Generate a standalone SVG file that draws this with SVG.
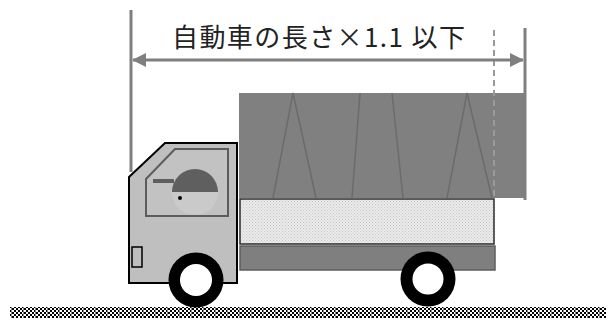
<svg xmlns="http://www.w3.org/2000/svg" width="614" height="320" viewBox="0 0 614 320">
  <defs>
    <style>
      .dim { stroke: #7f7f7f; stroke-width: 3; fill: none; }
      .cover-line { stroke: #6b6b6b; stroke-width: 1.5; fill: none; }
      .label { font-family: "Noto Sans CJK JP", "Liberation Serif", serif; font-size: 26px; fill: #222; }
      .tyre { fill: #000; }
      .hub { fill: #fff; }
    </style>
    <marker id="arrow" viewBox="0 0 14 14" refX="13" refY="7" markerWidth="14" markerHeight="14" markerUnits="userSpaceOnUse" orient="auto-start-reverse">
      <path d="M0,0 L14,7 L0,14 Z" fill="#7f7f7f"/>
    </marker>
    <pattern id="dots" width="3" height="3" patternUnits="userSpaceOnUse">
      <rect width="3" height="3" fill="#ececec"/>
      <rect x="0" y="0" width="1" height="1" fill="#c4c4c4"/>
      <rect x="1.5" y="1.5" width="1" height="1" fill="#c4c4c4"/>
    </pattern>
    <pattern id="checks" width="12" height="12" patternUnits="userSpaceOnUse">
      <rect width="12" height="12" fill="#fff"/>
      <path d="M0,0h2v2h-2zM4,0h2v2h-2zM8,0h2v2h-2zM2,2h2v2h-2zM6,2h2v2h-2zM10,2h2v2h-2zM0,4h2v2h-2zM4,4h2v2h-2zM8,4h2v2h-2zM2,6h2v2h-2zM6,6h2v2h-2zM10,6h2v2h-2zM0,8h2v2h-2zM4,8h2v2h-2zM8,8h2v2h-2zM2,10h2v2h-2zM6,10h2v2h-2zM10,10h2v2h-2z" fill="#000"/>
      <rect x="11" y="0" width="1" height="12" fill="#888"/>
    </pattern>
  </defs>

  <!-- ground strip -->
  <rect id="ground" x="10" y="307" width="596" height="11" fill="url(#checks)"/>

  <!-- cargo cover with tie-down ropes -->
  <g id="cover">
    <rect x="239" y="93" width="285" height="105" fill="#808080"/>
    <path class="cover-line" d="M293,93 L273,198 M293,93 L316,198 M360,93 L352,198 M392,93 L403,198 M467,93 L447,198 M467,93 L492,198"/>
  </g>

  <!-- cargo bed -->
  <g id="bed">
    <rect x="240" y="246" width="255" height="24" fill="#7f7f7f" stroke="#5e5e5e" stroke-width="1.5"/>
    <rect x="240" y="199" width="254" height="45" fill="url(#dots)" stroke="#2a2a2a" stroke-width="1.5"/>
  </g>

  <!-- cab -->
  <g id="cab">
    <path d="M129,177 L165,143 L237,143 L237,283 L129,283 Z" fill="#bfbfbf" stroke="#000" stroke-width="2"/>
    <path d="M146,179 L175,149 L228,149 L228,216 L146,216 Z" fill="#c2c2c2" stroke="#5c5c5c" stroke-width="2"/>
    <path d="M172,192 A23,23 0 0 0 218,192 Z" fill="#cacaca"/>
    <path d="M172,192 A23,23 0 0 1 218,192 Z" fill="#5f5f5f"/>
    <rect x="153" y="179" width="21" height="4" fill="#5f5f5f"/>
    <circle cx="180" cy="198" r="2" fill="#000"/>
    <rect x="132" y="247" width="10" height="20" fill="#bfbfbf" stroke="#000" stroke-width="1.5"/>
  </g>

  <!-- wheels -->
  <g id="front-wheel">
    <circle class="tyre" cx="196" cy="280" r="27.5"/>
    <circle class="hub" cx="196" cy="280" r="16"/>
  </g>
  <g id="rear-wheel">
    <circle class="tyre" cx="428" cy="279" r="27.5"/>
    <circle class="hub" cx="428" cy="279" r="15.5"/>
  </g>

  <!-- dimension: overall length limit -->
  <g id="connectors">
    <line class="dim" x1="131" y1="10" x2="131" y2="172"/>
    <line class="dim" x1="525" y1="28" x2="525" y2="200"/>
    <line x1="494" y1="30" x2="494" y2="198" stroke="#9a9a9a" stroke-width="2" stroke-dasharray="6 4"/>
    <line class="dim" x1="133" y1="60" x2="523" y2="60" stroke-width="2.5" marker-start="url(#arrow)" marker-end="url(#arrow)"/>
  </g>
  <g id="dimension-label">
    <text class="label" x="172" y="47" textLength="293" lengthAdjust="spacing">自動車の長さ×1.1 以下</text>
  </g>
</svg>
